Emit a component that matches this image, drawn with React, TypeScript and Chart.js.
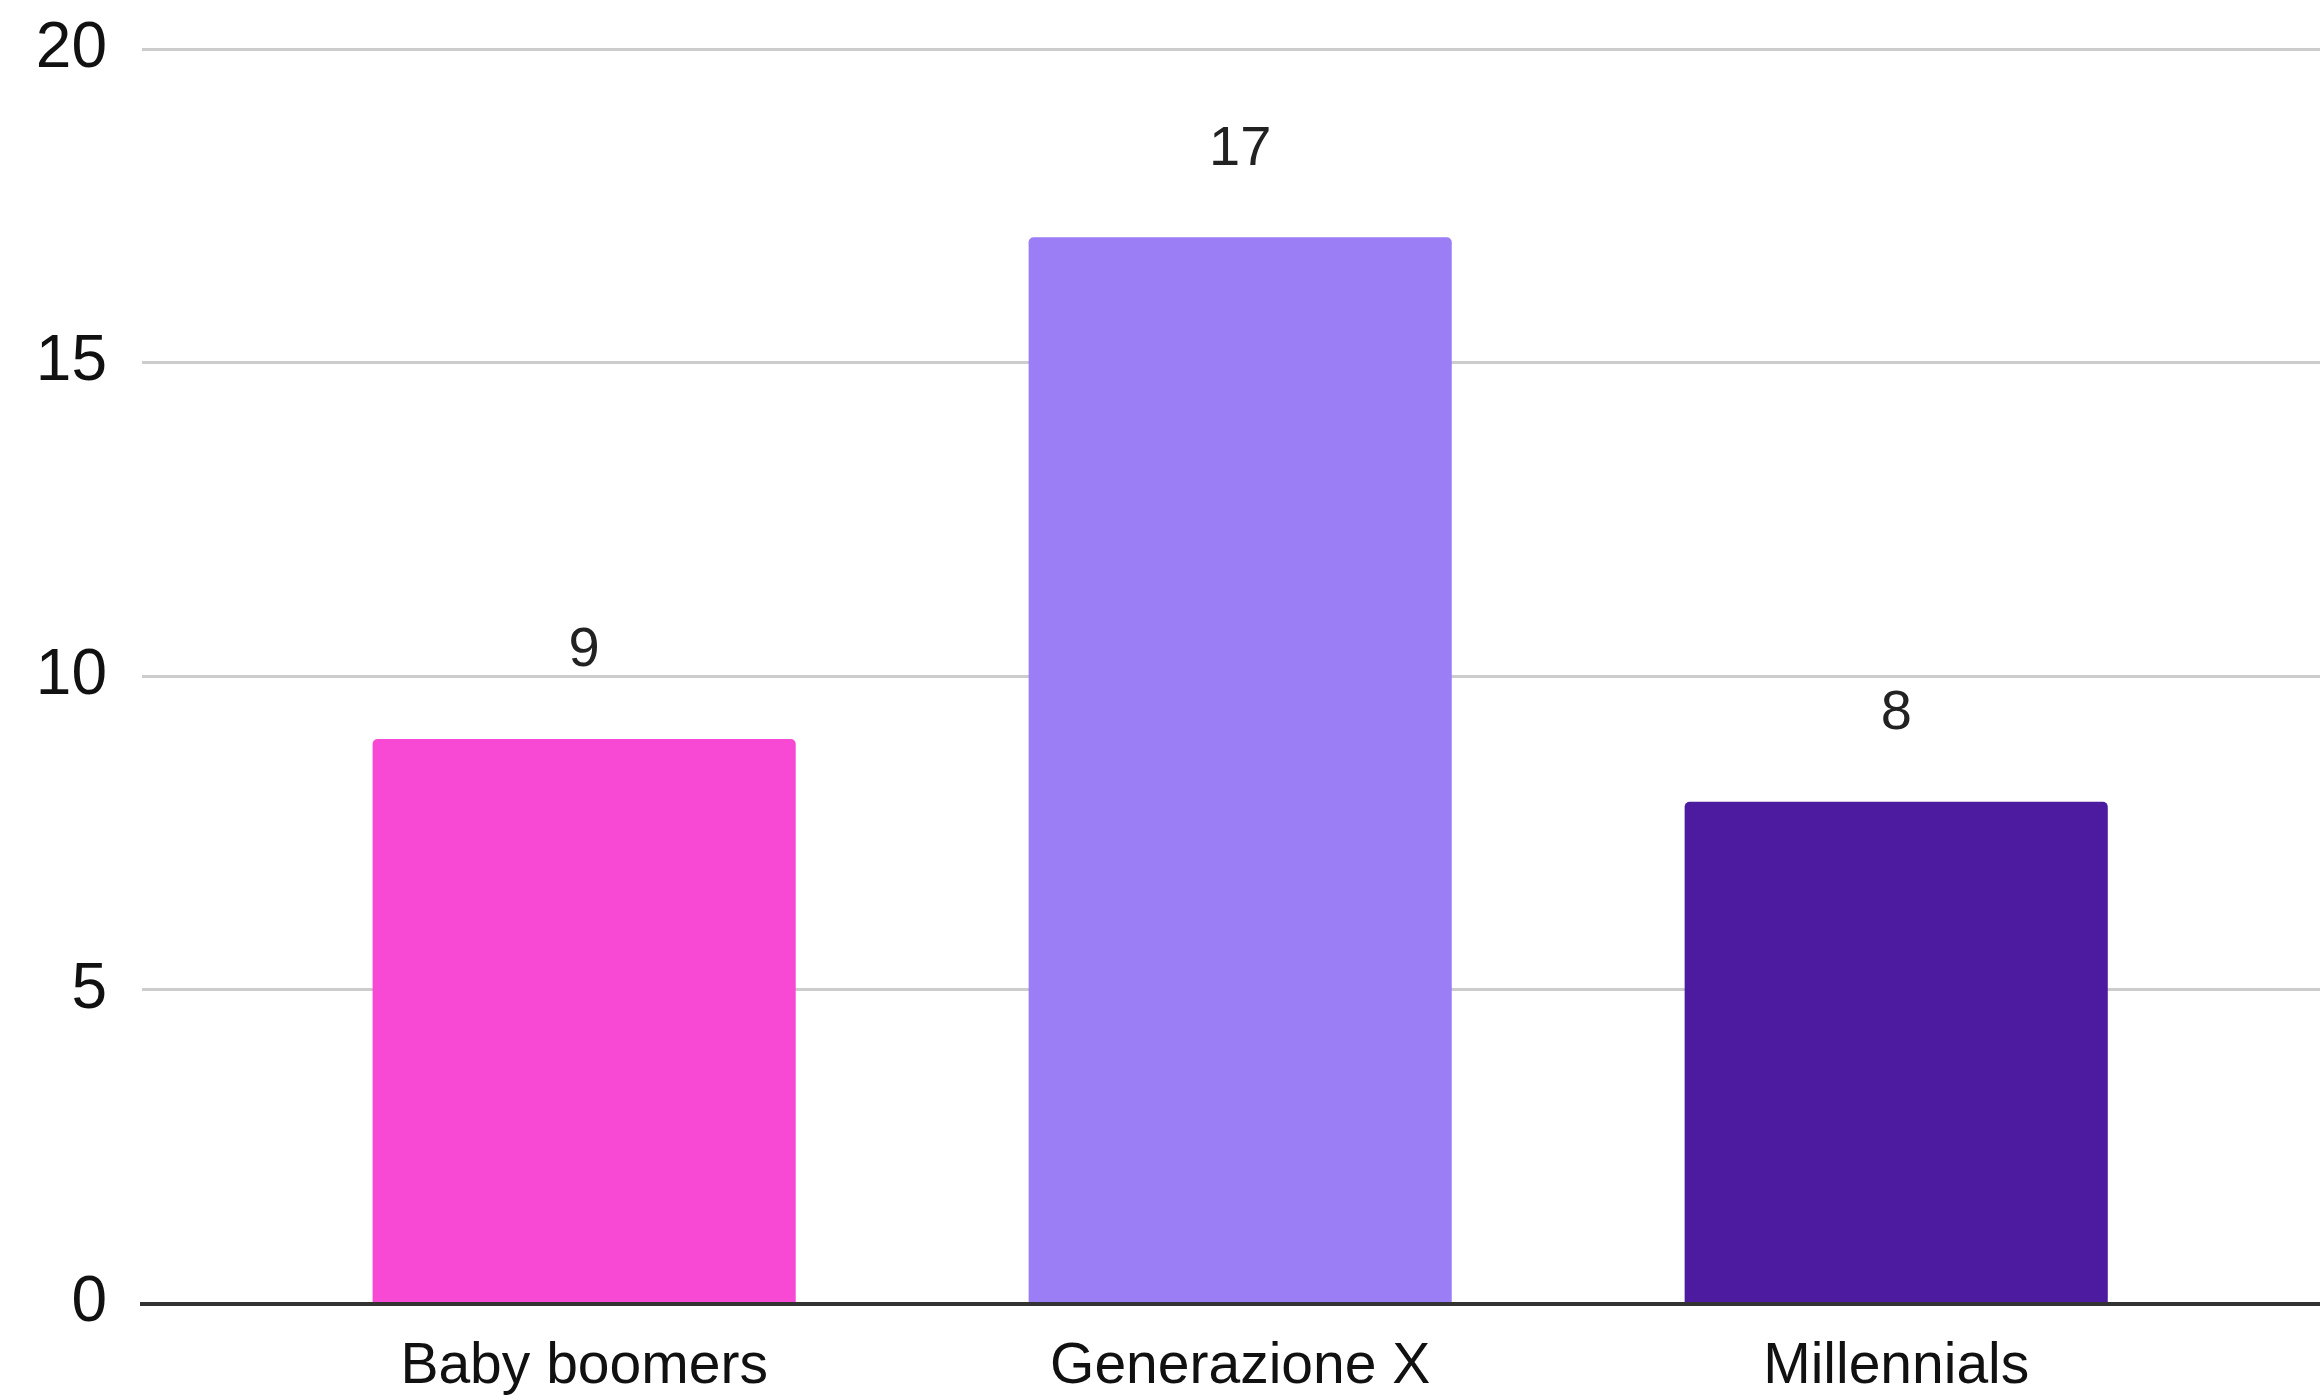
import React, { useEffect, useRef } from "react";
import { Chart, registerables } from "chart.js";

Chart.register(...registerables);

const categories = ["Baby boomers", "Generazione X", "Millennials"];
const values = [9, 17, 8];
const barColors = ["#F849D4", "#9B7EF5", "#4C1BA0"];
const yTicks = [0, 5, 10, 15, 20];

const FONT = "'Liberation Sans', Arial, sans-serif";

const valueLabels = {
  id: "valueLabels",
  afterDatasetsDraw(chart: any) {
    const ctx = chart.ctx;
    const meta = chart.getDatasetMeta(0);
    ctx.save();
    ctx.font = `56px ${FONT}`;
    ctx.fillStyle = "#222";
    ctx.textAlign = "center";
    ctx.textBaseline = "middle";
    meta.data.forEach((bar: any, i: number) => {
      ctx.fillText(String(values[i]), bar.x, bar.y - 88);
    });
    ctx.restore();
  },
};

export default function App() {
  const ref = useRef<HTMLCanvasElement | null>(null);
  useEffect(() => {
    if (!ref.current) return;
    const chart = new Chart(ref.current, {
      type: "bar",
      data: {
        datasets: [
          {
            data: values.map((v, i) => ({ x: i, y: v })),
            backgroundColor: barColors,
            borderRadius: { topLeft: 5, topRight: 5, bottomLeft: 0, bottomRight: 0 },
            borderSkipped: "bottom",
            barPercentage: 0.645,
            categoryPercentage: 1,
          },
        ],
      },
      options: {
        animation: false,
        responsive: true,
        maintainAspectRatio: false,
        layout: { padding: { top: 49, right: 0, left: 0, bottom: 0 } },
        plugins: { legend: { display: false }, tooltip: { enabled: false } },
        scales: {
          x: {
            type: "linear",
            min: -0.674,
            max: 2.646,
            offset: false,
            grid: { display: false, drawTicks: false, offset: false },
            border: { display: true, color: "#333", width: 4 },
            afterBuildTicks: (scale: any) => {
              scale.ticks = categories.map((_, i) => ({ value: i }));
            },
            afterFit: (scale: any) => {
              scale.height = 91.5;
              scale.paddingLeft = 0;
              scale.paddingRight = 0;
            },
            ticks: {
              autoSkip: false,
              maxRotation: 0,
              padding: 30,
              color: "#111",
              font: { family: FONT, size: 57 },
              callback: (v: any) => categories[v] ?? "",
            },
          },
          y: {
            min: 0,
            max: 20,
            afterBuildTicks: (scale: any) => {
              scale.ticks = yTicks.map((v) => ({ value: v }));
            },
            afterFit: (scale: any) => {
              scale.width = 142;
              scale.paddingTop = 0;
              scale.paddingBottom = 0;
            },
            grid: { color: "#cccccc", lineWidth: 3, drawTicks: false },
            border: { display: false },
            ticks: {
              padding: 35,
              color: "#111",
              font: { family: FONT, size: 64 },
            },
          },
        },
      },
      plugins: [valueLabels],
    });
    return () => chart.destroy();
  }, []);
  return (
    <div style={{ position: "fixed", left: 0, top: 0, width: 2320, height: 1395, background: "#fff" }}>
      <canvas ref={ref} />
    </div>
  );
}
